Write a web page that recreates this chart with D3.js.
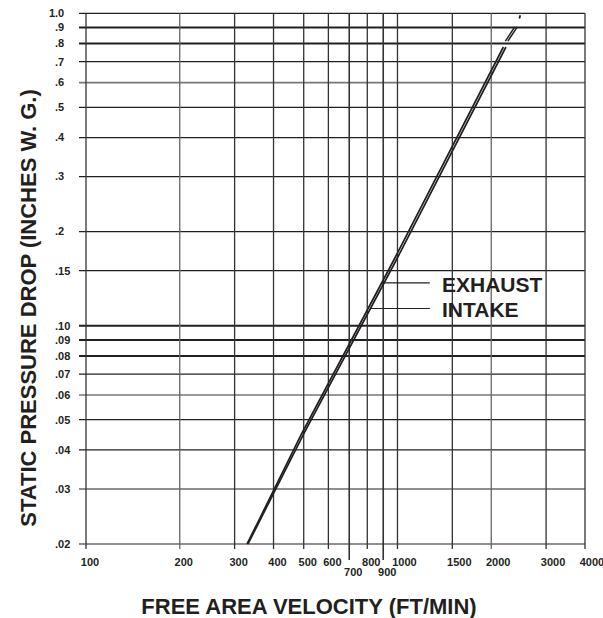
<!DOCTYPE html>
<html><head><meta charset="utf-8">
<script src="https://cdn.jsdelivr.net/npm/d3@7"></script>
<style>
body{margin:0;background:#fff}
svg{display:block}
text{font-family:"Liberation Sans",Arial,sans-serif;font-weight:bold;fill:#231f20}
</style>
</head><body><svg id="c" width="603" height="618"></svg>
<script>
// ---- data ----
const xTicks = [100,200,300,400,500,600,700,800,900,1000,1500,2000,3000,4000];
const xLowTicks = [700,900];
const yTicks = [1.0,0.9,0.8,0.7,0.6,0.5,0.4,0.3,0.2,0.15,0.10,0.09,0.08,0.07,0.06,0.05,0.04,0.03,0.02];
const yTickLabels = ["1.0",".9",".8",".7",".6",".5",".4",".3",".2",".15",".10",".09",".08",".07",".06",".05",".04",".03",".02"];
const yThick = [0.9,0.8,0.10,0.09,0.08];
const yGray = [0.6,0.06];
const intake = [[331,0.02],[500,0.045],[1000,0.165],[2230,0.78]];
const exhaust = [[329,0.02],[492,0.045],[982,0.165],[2188,0.78]];
const intakeExt = [[2262,0.815],[2425,0.905]];
const exhaustExt = [[2220,0.815],[2380,0.905]];
const stub = [[2462,0.962],[2478,0.985]];
const seriesNames = ["EXHAUST","INTAKE"];
const labelP = [0.137,0.1135];
const leaderEndV = 1270, labelV = 1390;

// ---- layout ----
const svg = d3.select("#c");
const L = 86, R = 585, T = 13.3, B = 544;
const x = d3.scaleLog().domain([100,4000]).range([L,R]);
const y = d3.scaleLog().domain([0.02,1.0]).range([B,T]);
const ink = "#231f20";

// grid horizontal
const g = svg.append("g");
g.selectAll("line.h").data(yTicks).join("line")
  .attr("x1", L-7).attr("x2", R)
  .attr("y1", d=>y(d)).attr("y2", d=>y(d))
  .attr("stroke", d=> yGray.includes(d) ? "#777" : ink)
  .attr("stroke-width", d=> yThick.includes(d) ? 2 : (yGray.includes(d)?1.6:1.2));
// grid vertical
g.selectAll("line.v").data(xTicks).join("line")
  .attr("x1", d=>x(d)).attr("x2", d=>x(d))
  .attr("y1", T).attr("y2", d=> xLowTicks.includes(d) ? B+16 : B+5)
  .attr("stroke", d=> (d===200||d===2000) ? "#666" : "#333")
  .attr("stroke-width", d=> (d===700||d===900) ? 1.6 : 1.3);

// y labels, aligned on decimal point
const dotX = 55;
const yl = svg.append("g").attr("font-size", 11);
yTicks.forEach((v,i)=>{
  const lab = yTickLabels[i];
  const intPart = lab.split(".")[0];
  let w = 0;
  if (intPart.length){
    const tmp = yl.append("text").text(intPart);
    w = tmp.node().getComputedTextLength(); tmp.remove();
  }
  yl.append("text").attr("x", dotX - w).attr("y", y(v)).attr("dy","0.35em").text(lab);
});

// x labels
const xl = svg.append("g").attr("font-size", 11).attr("text-anchor","middle");
xTicks.forEach(v=>{
  const low = xLowTicks.includes(v);
  xl.append("text").attr("x", x(v)+ (v>=1000?7:4)).attr("y", low ? 576 : 566).text(v);
});

// curves
const line = d3.line().x(d=>x(d[0])).y(d=>y(d[1]));
[exhaust, intake].forEach(s=>{
  svg.append("path").attr("d", line(s)).attr("fill","none").attr("stroke", ink).attr("stroke-width",1.7);
});
[exhaustExt, intakeExt].forEach(s=>{
  svg.append("path").attr("d", line(s)).attr("fill","none").attr("stroke", ink).attr("stroke-width",1.5);
});
svg.append("path").attr("d", line(stub)).attr("fill","none").attr("stroke", ink).attr("stroke-width",1.8);

// leaders and labels
function vAt(series, p){
  for (let i=0;i<series.length-1;i++){
    const a=series[i], b=series[i+1];
    if (p>=a[1] && p<=b[1]){
      const t=(Math.log(p)-Math.log(a[1]))/(Math.log(b[1])-Math.log(a[1]));
      return Math.exp(Math.log(a[0])+t*(Math.log(b[0])-Math.log(a[0])));
    }
  }
  return series[0][0];
}
[exhaust, intake].forEach((s,i)=>{
  const p = labelP[i];
  svg.append("line").attr("x1", x(vAt(s,p))).attr("x2", x(leaderEndV))
    .attr("y1", y(p)).attr("y2", y(p)).attr("stroke", ink).attr("stroke-width",1.2);
  svg.append("text").attr("x", x(labelV)).attr("y", y(p)+9).attr("font-size",21).text(seriesNames[i]);
});

// axis titles
svg.append("text").attr("x", 309).attr("y", 614).attr("text-anchor","middle").attr("font-size",22)
  .text("FREE AREA VELOCITY (FT/MIN)");
svg.append("text").attr("transform","translate(36,308) rotate(-90)").attr("text-anchor","middle").attr("font-size",22)
  .text("STATIC PRESSURE DROP (INCHES W. G.)");
</script>
</body></html>
